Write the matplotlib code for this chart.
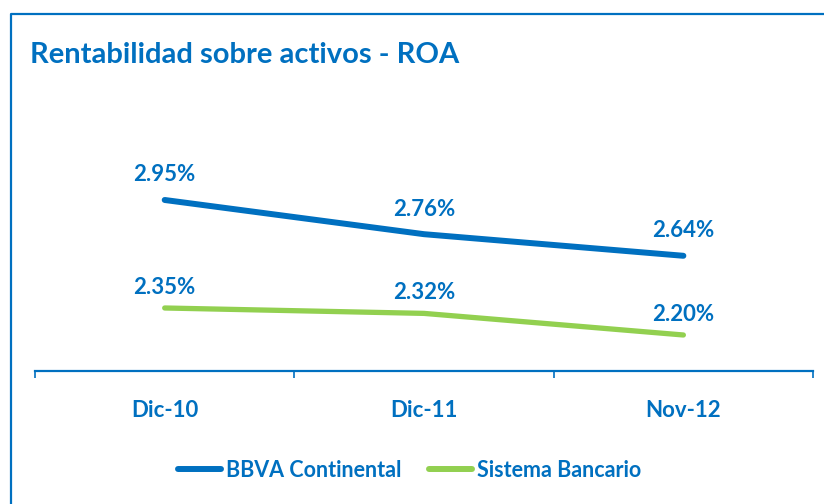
import matplotlib.pyplot as plt
from matplotlib.lines import Line2D

categories = ['Dic-10', 'Dic-11', 'Nov-12']
bbva = [2.95, 2.76, 2.64]
sistema = [2.35, 2.32, 2.20]
labels_bbva = ['2.95%', '2.76%', '2.64%']
labels_sistema = ['2.35%', '2.32%', '2.20%']

blue = '#0070C0'
green = '#92D050'
plt.rcParams['font.family'] = ['Lato', 'DejaVu Sans']
plt.rcParams['font.weight'] = 'bold'

fig = plt.figure(figsize=(8.24, 5.04), dpi=100)
ax = fig.add_axes([0.0425, 0.2639, 0.9442, 0.4286])

x = list(range(len(categories)))
ax.plot(x, bbva, color=blue, lw=4.3, solid_capstyle='round', label='BBVA Continental')
ax.plot(x, sistema, color=green, lw=3.8, solid_capstyle='round', label='Sistema Bancario')

for xi, v, t in zip(x, bbva, labels_bbva):
    ax.annotate(t, (xi, v), xytext=(0, 18), textcoords='offset points',
                ha='center', va='center', color=blue, fontsize=16, fontweight='bold')
for xi, v, t in zip(x, sistema, labels_sistema):
    ax.annotate(t, (xi, v), xytext=(0, 15), textcoords='offset points',
                ha='center', va='center', color=blue, fontsize=16, fontweight='bold')

ax.set_xlim(-0.5, 2.5)
ax.set_ylim(2.0, 3.2)
for s in ['top', 'right', 'left']:
    ax.spines[s].set_visible(False)
ax.spines['bottom'].set_color(blue)
ax.spines['bottom'].set_linewidth(1.6)
ax.set_yticks([])
ax.set_xticks([-0.5, 0.5, 1.5, 2.5], minor=False)
ax.set_xticklabels([])
ax.tick_params(axis='x', which='major', direction='out', length=5, width=1.2, color=blue)
ax.set_xticks(x, minor=True)
ax.set_xticklabels(categories, minor=True)
ax.tick_params(axis='x', which='minor', length=0, pad=21, labelsize=16, labelcolor=blue)
for lbl in ax.get_xticklabels(minor=True):
    lbl.set_fontweight('bold')

fig.text(0.036, 0.89, 'Rentabilidad sobre activos - ROA', color=blue,
         fontsize=21, fontweight='bold', ha='left', va='center')

# frame around the chart, running off the right and bottom edges
fig.add_artist(Line2D([11 / 824, 11 / 824, 1.0], [0.0, 1 - 14 / 504, 1 - 14 / 504],
                      transform=fig.transFigure, color=blue, lw=1.6))

leg = fig.legend(loc='center', bbox_to_anchor=(0.497, 0.067), ncol=2, frameon=False,
                 fontsize=15.5, handlelength=2.0, columnspacing=1.3, handletextpad=0.2)
for t in leg.get_texts():
    t.set_color(blue)
    t.set_fontweight('bold')
for h in leg.legend_handles:
    h.set_linewidth(4.3)

fig.savefig('out.png', dpi=100)
